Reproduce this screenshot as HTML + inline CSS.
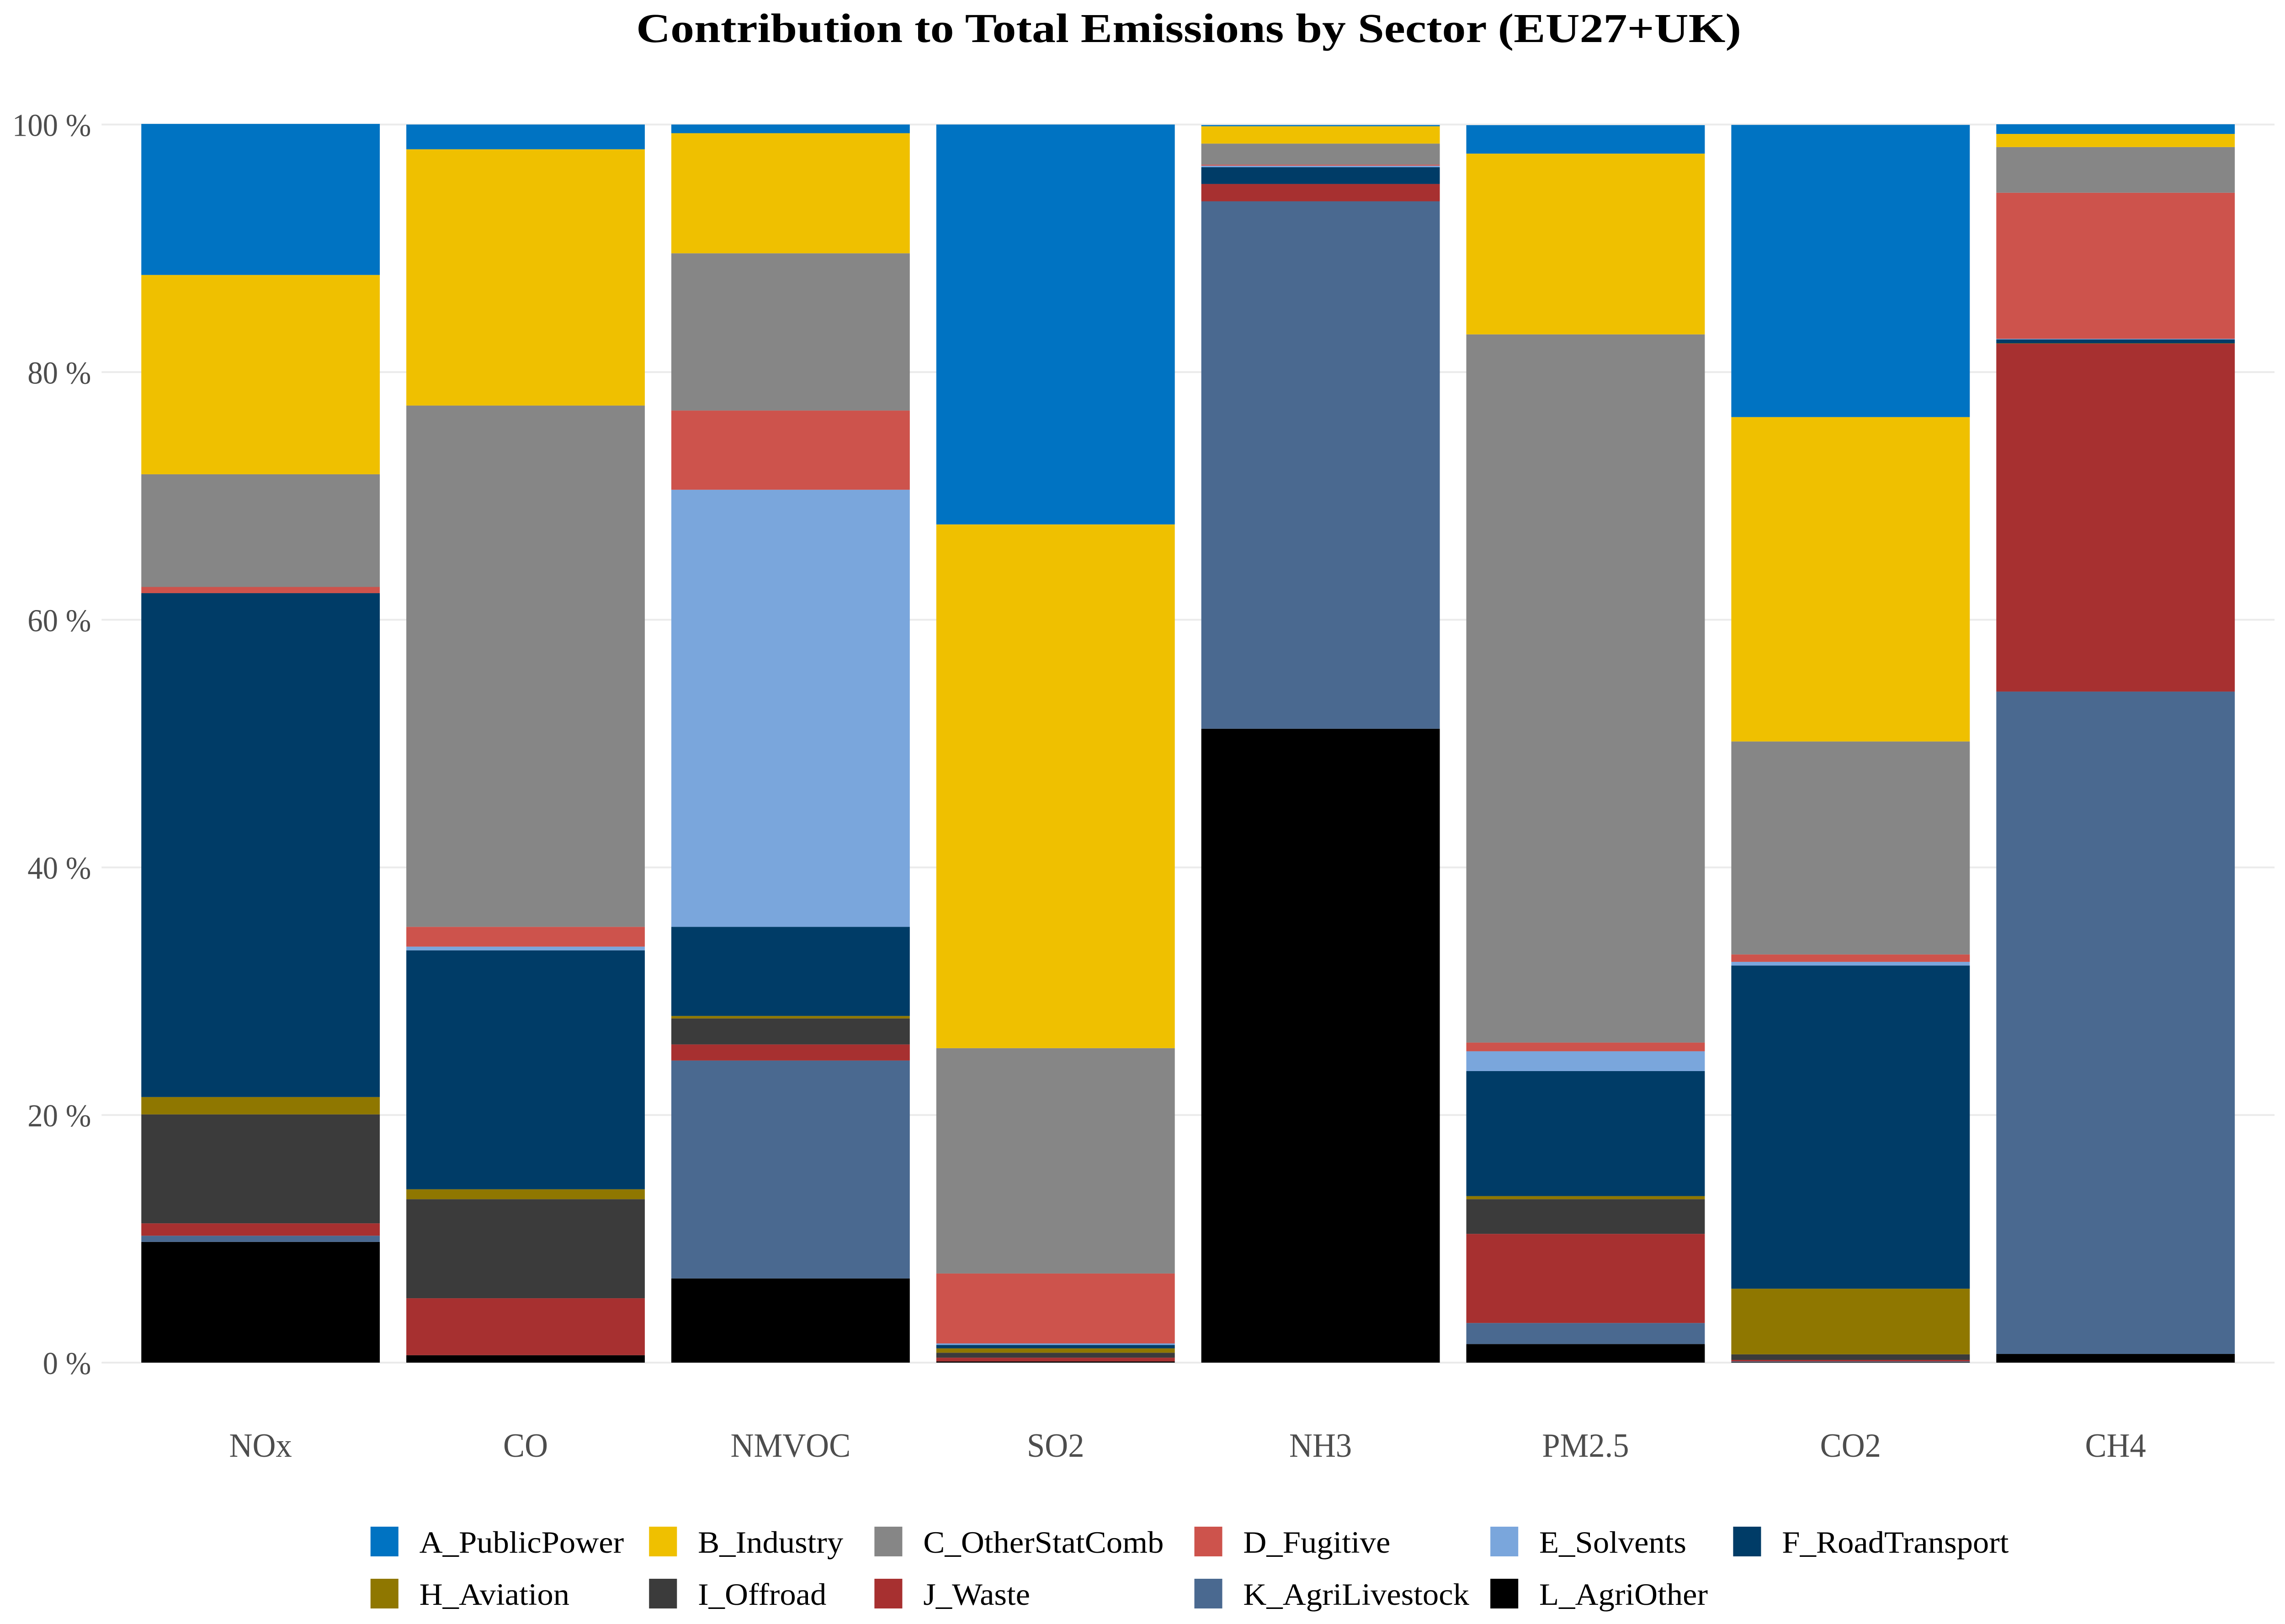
<!DOCTYPE html>
<html><head><meta charset="utf-8">
<style>
html,body{margin:0;padding:0;background:#fff;width:100%;height:100%;overflow:hidden;}
svg{display:block;position:fixed;left:0;top:0;width:100vw;height:100vh;}
text{font-family:"Liberation Serif",serif;}
</style></head>
<body>
<svg id="chart" viewBox="0 0 5242 3554" preserveAspectRatio="none" xmlns="http://www.w3.org/2000/svg">
<rect width="5242" height="3554" fill="#fff"/>
<text x="2727" y="92" text-anchor="middle" font-size="90" font-weight="bold" fill="#000" textLength="2535" lengthAdjust="spacingAndGlyphs">Contribution to Total Emissions by Sector (EU27+UK)</text>
<g id="grid"></g><g id="bars"></g><g id="yaxis"></g><g id="xaxis"></g><g id="legend"></g>
</svg>
<script>
const categories = ["NOx","CO","NMVOC","SO2","NH3","PM2.5","CO2","CH4"];
const sectors = ["A_PublicPower","B_Industry","C_OtherStatComb","D_Fugitive","E_Solvents","F_RoadTransport","H_Aviation","I_Offroad","J_Waste","K_AgriLivestock","L_AgriOther"];
const colors = ["#0073C2","#EFC000","#868686","#CD534C","#7AA6DC","#003C67","#8F7700","#3B3B3B","#A73030","#4A6990","#000000"];
// values (%) per sector, in category order
const A_PublicPower   = [12.2, 2.0, 0.7, 32.3, 0.1, 2.3, 23.6, 0.78];
const B_Industry      = [16.1, 20.7, 9.7, 42.3, 1.4, 14.6, 26.2, 1.06];
const C_OtherStatComb = [9.1, 42.1, 12.7, 18.2, 1.7, 57.2, 17.2, 3.69];
const D_Fugitive      = [0.5, 1.6, 6.4, 5.65, 0.09, 0.7, 0.6, 11.8];
const E_Solvents      = [0.0, 0.3, 35.3, 0.12, 0.12, 1.6, 0.3, 0.05];
const F_RoadTransport = [40.7, 19.3, 7.2, 0.28, 1.35, 10.1, 26.1, 0.3];
const H_Aviation      = [1.4, 0.8, 0.2, 0.35, 0.0, 0.25, 5.3, 0.02];
const I_Offroad       = [8.8, 8.0, 2.1, 0.4, 0.0, 2.8, 0.45, 0.02];
const J_Waste         = [1.0, 4.6, 1.3, 0.3, 1.4, 7.2, 0.12, 28.1];
const K_AgriLivestock = [0.5, 0.0, 17.6, 0.0, 42.6, 1.7, 0.05, 53.5];
const L_AgriOther     = [9.75, 0.6, 6.8, 0.1, 51.2, 1.5, 0.05, 0.7];
const yTicks = [0,20,40,60,80,100];
const yTickLabels = ["0 %","20 %","40 %","60 %","80 %","100 %"];

const series = [A_PublicPower,B_Industry,C_OtherStatComb,D_Fugitive,E_Solvents,F_RoadTransport,H_Aviation,I_Offroad,J_Waste,K_AgriLivestock,L_AgriOther];
const NS = "http://www.w3.org/2000/svg";
const panelL = 233, panelR = 5218, y0 = 2982, y100 = 272.5;
const step = (panelR - panelL) / (categories.length - 1 + 1.2);
const barW = step * 0.9;
function xCenter(i){ return panelL + step*0.6 + i*step; }
function yScale(v){ return y0 - (y0 - y100) * v / 100; }
function mk(tag, attrs, parent){ const e=document.createElementNS(NS,tag); for(const k in attrs) e.setAttribute(k,attrs[k]); parent.appendChild(e); return e; }

const grid=document.getElementById('grid'), yaxis=document.getElementById('yaxis');
yTicks.forEach((t,i)=>{
  const ln = mk('line',{x1:panelL,x2:panelR,y1:yScale(t),y2:yScale(t),stroke:'#EBEBEB','stroke-width':4},grid);
  
  
  const tx = mk('text',{x:209,y:yScale(t)+25,'text-anchor':'end','font-size':70,fill:'#4D4D4D'},yaxis);
  tx.textContent = yTickLabels[i];
  
  
});

const bars=document.getElementById('bars'), xaxis=document.getElementById('xaxis');
categories.forEach((c,i)=>{
  let cum = 0;
  const xl = xCenter(i) - barW/2;
  for(let s = series.length-1; s >= 0; s--){
    const v = series[s][i];
    if(v <= 0) continue;
    const yTop = yScale(cum+v), yBot = yScale(cum);
    const r = mk('rect',{x:xl,y:yTop,width:barW,height:yBot-yTop,fill:colors[s]},bars);
    
    
    cum += v;
  }
  const tx = mk('text',{x:xCenter(i),y:3188,'text-anchor':'middle','font-size':74,fill:'#4D4D4D'},xaxis);
  tx.textContent = c;
  
  
});

const legend=document.getElementById('legend');
const colX = [850,1489,2006,2740,3419,3976];
const rowY = [3341,3455];
sectors.forEach((s,i)=>{
  const row = i<6?0:1, col = i<6?i:i-6;
  const g = mk('g',{},legend);
  
  
  const k = mk('rect',{x:colX[col],y:rowY[row],width:64,height:65,fill:colors[i]},g);
  
  
  const t = mk('text',{x:colX[col]+112,y:rowY[row]+57,'font-size':68,fill:'#000'},g);
  t.textContent = s;
  
  
  const w = t.getComputedTextLength();
  if (w > 0) { t.setAttribute('textLength', (w*1.09).toFixed(1)); t.setAttribute('lengthAdjust','spacingAndGlyphs'); }
});
</script>
</body></html>
